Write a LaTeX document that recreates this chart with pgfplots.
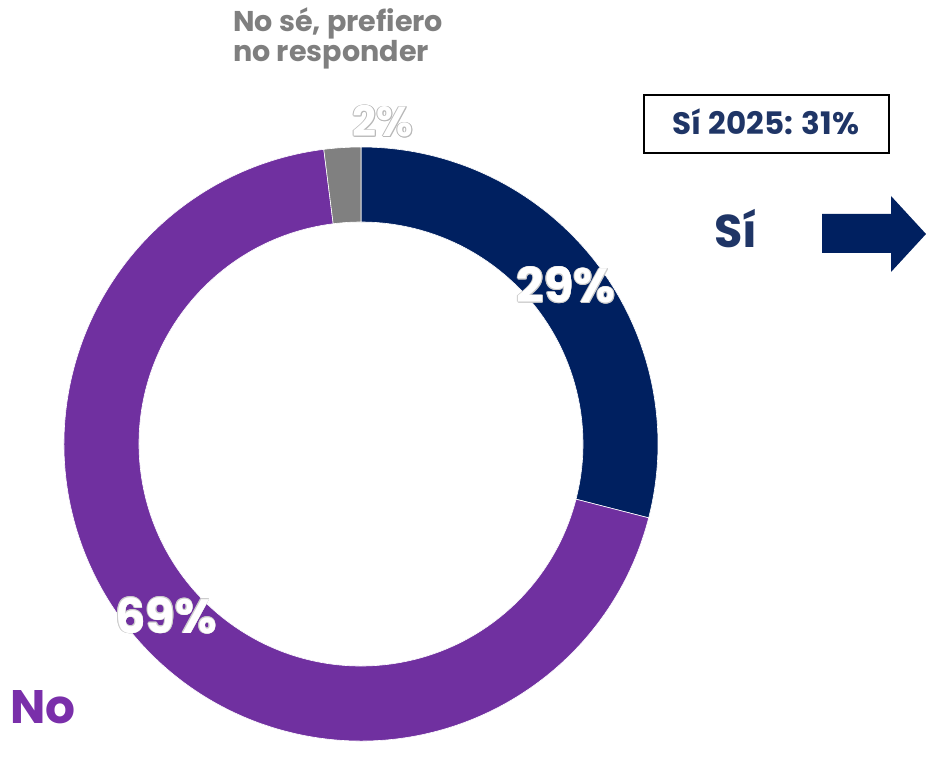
\documentclass[border=0pt]{standalone}
\usepackage{pgfplots}
\pgfplotsset{compat=1.18}
\usepackage{pgfplotstable}
\usepackage{fontspec}
\setmainfont{Poppins}
\definecolor{navy}{HTML}{002060}
\definecolor{purp}{HTML}{7030A0}
\definecolor{grayc}{HTML}{808080}
\definecolor{navytxt}{HTML}{1F3566}
\definecolor{purptxt}{HTML}{7A2FAA}
\definecolor{graytxt}{HTML}{7F7F7F}

\pgfplotstableread{
cat val
Si 29
No 69
NS 2
}\donut
\pgfplotstablegetelem{0}{val}\of\donut \let\vSi\pgfplotsretval
\pgfplotstablegetelem{1}{val}\of\donut \let\vNo\pgfplotsretval
\pgfplotstablegetelem{2}{val}\of\donut \let\vNS\pgfplotsretval
\pgfmathsetmacro\aA{90}
\pgfmathsetmacro\aB{90-3.6*\vSi}
\pgfmathsetmacro\aC{\aB-3.6*\vNo}
\pgfmathsetmacro\aD{\aC-3.6*\vNS}
\def\Ro{148.5pt}\def\Ri{111pt}

\newlength\ol
\newcommand\outlined[4]{{\ol=#1\setbox0\hbox{#4}%
 \color{#2}%
 \rlap{\kern-\ol\copy0}\rlap{\kern\ol\copy0}%
 \rlap{\raise\ol\copy0}\rlap{\raise-\ol\copy0}%
 \rlap{\kern-0.7\ol\raise0.7\ol\copy0}\rlap{\kern0.7\ol\raise0.7\ol\copy0}%
 \rlap{\kern-0.7\ol\raise-0.7\ol\copy0}\rlap{\kern0.7\ol\raise-0.7\ol\copy0}%
 \color{#3}\copy0}}

\begin{document}
\begin{tikzpicture}
\begin{axis}[scale only axis, width=463pt, height=371pt,
  xmin=0, xmax=926, ymin=0, ymax=742, hide axis, clip=false]
\path (axis cs:0,0) rectangle (axis cs:926,742);
\coordinate (c) at (axis cs:361,298);
% slices
\fill[navy,draw=white,line width=0.3pt] ([shift={(c)}]\aA:\Ro) arc[start angle=\aA,end angle=\aB,radius=\Ro]
  -- ([shift={(c)}]\aB:\Ri) arc[start angle=\aB,end angle=\aA,radius=\Ri] -- cycle;
\fill[purp,draw=white,line width=0.3pt] ([shift={(c)}]\aB:\Ro) arc[start angle=\aB,end angle=\aC,radius=\Ro]
  -- ([shift={(c)}]\aC:\Ri) arc[start angle=\aC,end angle=\aB,radius=\Ri] -- cycle;
\fill[grayc,draw=white,line width=0.3pt] ([shift={(c)}]\aC:\Ro) arc[start angle=\aC,end angle=\aD,radius=\Ro]
  -- ([shift={(c)}]\aD:\Ri) arc[start angle=\aD,end angle=\aC,radius=\Ri] -- cycle;
% percentage labels
\node[anchor=base,inner sep=0pt,font=\bfseries\fontsize{24}{28}\selectfont] at (axis cs:566,439) {\outlined{0.35pt}{black!20}{white}{29\%}};
\node[anchor=base,inner sep=0pt,font=\bfseries\fontsize{24}{28}\selectfont] at (axis cs:166,109) {\outlined{0.35pt}{black!20}{white}{69\%}};
\node[anchor=base,inner sep=0pt,font=\bfseries\fontsize{21}{25}\selectfont] at (axis cs:383,605) {\outlined{0.45pt}{black!28}{white}{2\%}};
% category labels
\node[anchor=base west,inner sep=0pt,text=graytxt,font=\bfseries\fontsize{14.3}{16}\selectfont] at (axis cs:233,710.5) {No sé, prefiero};
\node[anchor=base west,inner sep=0pt,text=graytxt,font=\bfseries\fontsize{14.3}{16}\selectfont] at (axis cs:233,680.5) {no responder};
\node[anchor=base west,inner sep=0pt,text=purptxt,font=\bfseries\fontsize{23.5}{26}\selectfont] at (axis cs:10,19) {No};
\node[anchor=base,inner sep=0pt,text=navytxt,font=\bfseries\fontsize{23}{26}\selectfont] at (axis cs:736,494) {Sí};
% box
\draw[black,line width=0.9pt] (axis cs:644,647) rectangle (axis cs:889,589);
\node[anchor=base,inner sep=0pt,text=navytxt,font=\bfseries\fontsize{15.5}{18}\selectfont] at (axis cs:766,607) {Sí 2025: 31\%};
% arrow
\fill[navy] (axis cs:822,528) -- (axis cs:891,528) -- (axis cs:891,546) -- (axis cs:926,508)
  -- (axis cs:891,470) -- (axis cs:891,489) -- (axis cs:822,489) -- cycle;
\end{axis}
\end{tikzpicture}
\end{document}
